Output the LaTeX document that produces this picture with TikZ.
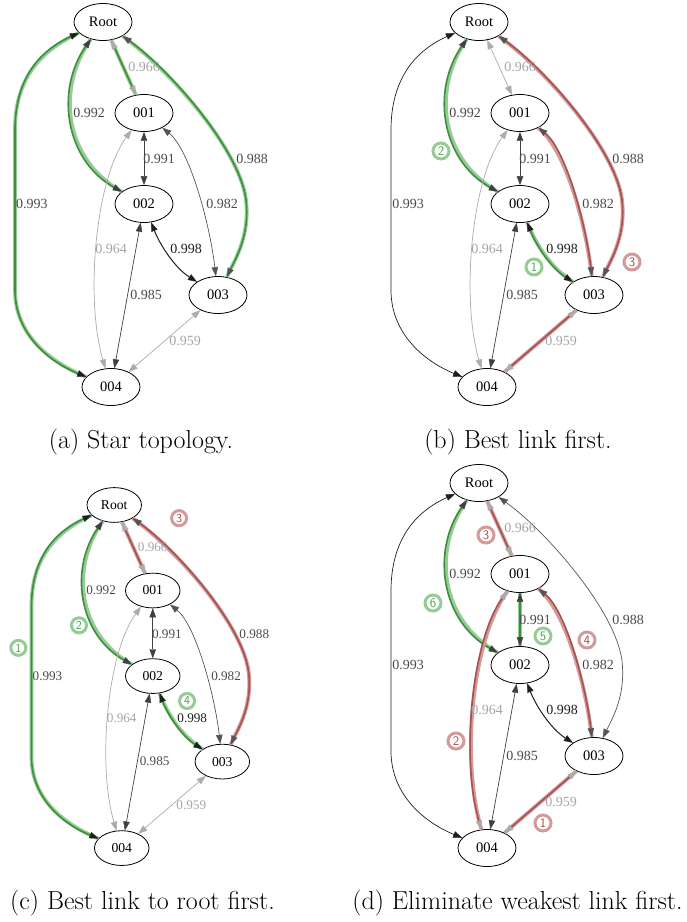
\documentclass[tikz,border=0pt]{standalone}
\usepackage{fontspec}
\newfontfamily\gvfont{Liberation Serif}
\usetikzlibrary{shapes.geometric, arrows.meta}
\definecolor{edgeblack}{HTML}{1E1E1E}
\definecolor{edgedark}{HTML}{404040}
\definecolor{edgegray}{HTML}{555555}
\definecolor{edgelight}{HTML}{ABABAB}
\definecolor{labeldark}{HTML}{4A4A4A}
\definecolor{labellight}{HTML}{A5A5A5}
\definecolor{greenline}{HTML}{3E8E3E}
\definecolor{greenlight}{HTML}{95CC95}
\definecolor{greendigit}{HTML}{4EA04E}
\definecolor{redline}{HTML}{A55252}
\definecolor{redlight}{HTML}{D49A9A}
\definecolor{reddigit}{HTML}{B04848}
\tikzstyle{gvnode} = [ellipse, draw=black, line width=0.8pt, minimum width=58pt, minimum height=37pt, inner sep=0pt, font=\gvfont\fontsize{14.5}{16}\selectfont]
\tikzstyle{weight} = [inner sep=0pt, text=labeldark, font=\gvfont\fontsize{14}{16}\selectfont]
\tikzstyle{hlgreen} = [draw=greenline, line width=1.6pt, preaction={draw=greenlight, line width=3.8pt, -}]
\tikzstyle{hlred} = [draw=redline, line width=1.6pt, preaction={draw=redlight, line width=3.8pt, -}]
\tikzstyle{badgegreen} = [circle, draw=greenlight, fill=white, line width=3pt, minimum size=16pt, inner sep=0pt, text=greendigit, font=\sffamily\fontsize{13}{14}\selectfont]
\tikzstyle{badgered} = [circle, draw=redlight, fill=white, line width=3pt, minimum size=16pt, inner sep=0pt, text=reddigit, font=\sffamily\fontsize{13}{14}\selectfont]
\tikzstyle{subcap} = [anchor=base, inner sep=0pt, font=\fontsize{26}{30}\selectfont]
\tikzset{
  link/.style={line width=0.7pt, draw=#1,
    arrows={Triangle[length=9pt,width=6.5pt,line width=0.4pt,color=#1]-Triangle[length=9pt,width=6.5pt,line width=0.4pt,color=#1]}},
  eR1/.style={}, eR2/.style={}, eR3/.style={}, eR4/.style={},
  e12/.style={}, e13/.style={}, e14/.style={},
  e23/.style={}, e24/.style={}, e34/.style={}
}
% one network, node names prefixed by #1
\newcommand{\netgraph}[1]{%
\node[gvnode] (#1root) at (103,22) {Root};
\node[gvnode] (#1n1) at (144,113) {001};
\node[gvnode] (#1n2) at (144,204) {002};
\node[gvnode] (#1n3) at (218,295) {003};
\node[gvnode] (#1n4) at (111,387) {004};
% links
\draw[link=edgeblack, eR4] (#1root) .. controls (30,55) and (15,90) .. (15,130) -- (15,290) .. controls (15,335) and (50,362) .. (#1n4);
\draw[link=edgedark, eR2] (#1root) .. controls (55,90) and (65,160) .. (#1n2);
\draw[link=edgelight, eR1] (#1root) -- (#1n1);
\draw[link=edgegray, eR3] (#1root) .. controls (170,70) and (240,150) .. (246,200) .. controls (250,235) and (236,258) .. (#1n3);
\draw[link=edgedark, line width=1pt, e12] (#1n1) -- (#1n2);
\draw[link=edgegray, e13] (#1n1) .. controls (190,150) and (210,225) .. (#1n3);
\draw[link=edgelight, e14] (#1n1) .. controls (95,180) and (85,300) .. (#1n4);
\draw[link=edgeblack, line width=1pt, e23] (#1n2) .. controls (160,245) and (175,268) .. (#1n3);
\draw[link=edgedark, e24] (#1n2) -- (#1n4);
\draw[link=edgelight, e34] (#1n3) -- (#1n4);
% weights
\node[weight] (#1w993) at (32,204) {0.993};
\node[weight] (#1w992) at (89,113) {0.992};
\node[weight, text=labellight] (#1w966) at (144,67) {0.966};
\node[weight] (#1w988) at (252,159) {0.988};
\node[weight] (#1w991) at (159,159) {0.991};
\node[weight] (#1w982) at (222,204) {0.982};
\node[weight, text=labellight] (#1w964) at (111,249) {0.964};
\node[weight, text=edgeblack] (#1w998) at (186,249) {0.998};
\node[weight] (#1w985) at (146,295) {0.985};
\node[weight, text=labellight] (#1w959) at (185,341) {0.959};
}

\begin{document}
\begin{tikzpicture}[x=1pt, y=-1pt]
\useasboundingbox (0,0) rectangle (687,922);
% (a)
\begin{scope}[eR1/.style=hlgreen, eR2/.style=hlgreen, eR3/.style=hlgreen, eR4/.style=hlgreen]
\netgraph{a}
\end{scope}
\node[subcap] (capa) at (141,448) {(a) Star topology.};
% (b)
\begin{scope}[shift={(376,0)}, eR2/.style=hlgreen, e23/.style=hlgreen, eR3/.style=hlred, e13/.style=hlred, e34/.style=hlred]
\netgraph{b}
\node[badgegreen] (bone) at (158,267) {1};
\node[badgegreen] (btwo) at (65,151) {2};
\node[badgered] (bthree) at (256,262) {3};
\end{scope}
\node[subcap] (capb) at (518,448) {(b) Best link first.};
% (c)
\begin{scope}[shift={(17.4,484.3)}, scale=0.94, transform shape, eR4/.style=hlgreen, eR2/.style=hlgreen, e23/.style=hlgreen, eR1/.style=hlred, eR3/.style=hlred]
\netgraph{c}
\node[badgegreen] (cone) at (1,174) {1};
\node[badgegreen] (ctwo) at (65.5,150) {2};
\node[badgered] (cthree) at (172,36) {3};
\node[badgegreen] (cfour) at (180.5,230.5) {4};
\end{scope}
\node[subcap] (capc) at (142.5,909) {(c) Best link to root first.};
% (d)
\begin{scope}[shift={(376,461)}, eR2/.style=hlgreen, e12/.style=hlgreen, eR1/.style=hlred, e13/.style=hlred, e14/.style=hlred, e34/.style=hlred]
\netgraph{d}
\node[badgered] (done) at (167,362) {1};
\node[badgered] (dtwo) at (80,280) {2};
\node[badgered] (dthree) at (110,74) {3};
\node[badgered] (dfour) at (211,179) {4};
\node[badgegreen] (dfive) at (167,175) {5};
\node[badgegreen] (dsix) at (57,142) {6};
\end{scope}
\node[subcap] (capd) at (517.5,909) {(d) Eliminate weakest link first.};
\end{tikzpicture}
\end{document}
